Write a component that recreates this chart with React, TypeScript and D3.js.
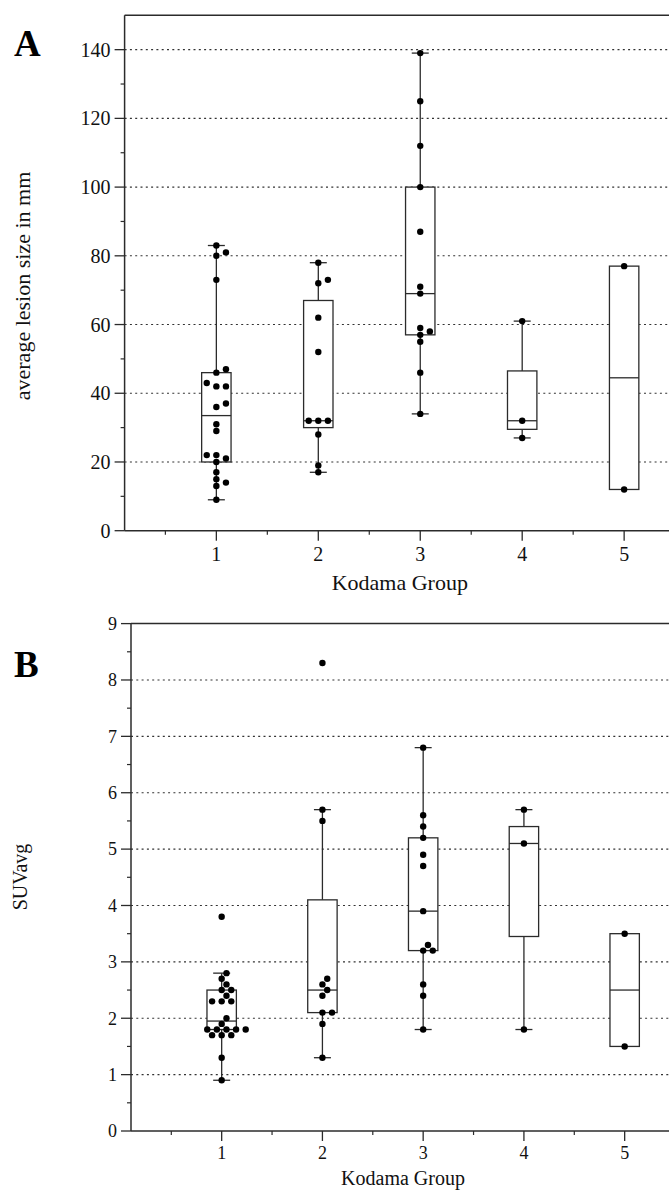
import React from "react";
import * as d3 from "d3";

// ---------- DATA ----------
const groups = [1, 2, 3, 4, 5];

// Panel A: average lesion size in mm (individual points per Kodama group)
const lesionGroup1 = [83, 81, 80, 73, 47, 46, 43, 42, 42, 37, 36, 31, 29, 22, 22, 21, 20, 17, 15, 14, 13, 9];
const lesionGroup2 = [78, 73, 72, 62, 52, 32, 32, 32, 28, 19, 17];
const lesionGroup3 = [139, 125, 112, 100, 87, 71, 69, 59, 58, 57, 55, 46, 34];
const lesionGroup4 = [61, 32, 27];
const lesionGroup5 = [77, 12];

const lesionWhiskerLow = [9, 17, 34, 27, 12];
const lesionQ1 = [20, 30, 57, 29.5, 12];
const lesionMedian = [33.5, 32, 69, 32, 44.5];
const lesionQ3 = [46, 67, 100, 46.5, 77];
const lesionWhiskerHigh = [83, 78, 139, 61, 77];

const lesionMajorTicks = [0, 20, 40, 60, 80, 100, 120, 140];
const lesionMinorTicks = [10, 30, 50, 70, 90, 110, 130];
const lesionGrid = [20, 40, 60, 80, 100, 120, 140];

// Panel B: SUVavg
const suvGroup1 = [3.8, 2.8, 2.7, 2.6, 2.5, 2.5, 2.4, 2.3, 2.3, 2.3, 2.0, 1.9, 1.8, 1.8, 1.8, 1.8, 1.8, 1.7, 1.7, 1.7, 1.3, 0.9];
const suvGroup2 = [8.3, 5.7, 5.5, 2.7, 2.6, 2.5, 2.4, 2.1, 2.1, 1.9, 1.3];
const suvGroup3 = [6.8, 5.6, 5.4, 5.2, 4.9, 4.7, 3.9, 3.3, 3.2, 3.2, 2.6, 2.4, 1.8];
const suvGroup4 = [5.7, 5.1, 1.8];
const suvGroup5 = [3.5, 1.5];

const suvWhiskerLow = [0.9, 1.3, 1.8, 1.8, 1.5];
const suvQ1 = [1.8, 2.1, 3.2, 3.45, 1.5];
const suvMedian = [1.95, 2.5, 3.9, 5.1, 2.5];
const suvQ3 = [2.5, 4.1, 5.2, 5.4, 3.5];
const suvWhiskerHigh = [2.8, 5.7, 6.8, 5.7, 3.5];

const suvMajorTicks = [0, 1, 2, 3, 4, 5, 6, 7, 8, 9];
const suvMinorTicks = [0.5, 1.5, 2.5, 3.5, 4.5, 5.5, 6.5, 7.5, 8.5];
const suvGrid = [1, 2, 3, 4, 5, 6, 7, 8];

const xMinorTicks = [0.5, 1.5, 2.5, 3.5, 4.5];

const xTitle = "Kodama Group";
const lesionTitle = "average lesion size in mm";
const suvTitle = "SUVavg";

// ---------- LAYOUT ----------
const FONT = "'Liberation Serif', 'Times New Roman', serif";
const INK = "#2b2b2b";

type PanelProps = {
  label: string;
  points: number[][];
  wLow: number[];
  q1: number[];
  med: number[];
  q3: number[];
  wHigh: number[];
  yDomain: [number, number];
  yRange: [number, number];
  xRange: [number, number];
  majors: number[];
  minors: number[];
  grid: number[];
  tickFont: number;
  titleFont: number;
  xLabelBaseline: number;
  xTitleBaseline: number;
  yTitle: string;
  yTitleX: number;
  yTitleCenter: number;
  labelBaseline: number;
};

function swarm(values: number[], yPix: (v: number) => number, step: number, dist: number) {
  const sorted = [...values].sort((a, b) => a - b);
  const placed: { v: number; py: number; dx: number }[] = [];
  for (const v of sorted) {
    const py = yPix(v);
    let chosen = 0;
    for (let k = 0; k < 40; k++) {
      const m = k === 0 ? 0 : (k % 2 === 1 ? (k + 1) / 2 : -k / 2);
      const dx = m * step;
      const ok = placed.every((p) => (p.dx - dx) ** 2 + (p.py - py) ** 2 >= dist * dist);
      if (ok) {
        chosen = dx;
        break;
      }
    }
    placed.push({ v, py, dx: chosen });
  }
  return placed;
}

function Panel(p: PanelProps) {
  const x = d3.scaleLinear().domain([0.1, 5.44]).range(p.xRange);
  const y = d3.scaleLinear().domain(p.yDomain).range(p.yRange);
  const left = p.xRange[0];
  const right = p.xRange[1];
  const bottom = p.yRange[0];
  const top = p.yRange[1];
  const boxHalf = 14.7;
  const capHalf = 8.5;

  return (
    <g>
      {/* grid */}
      {p.grid.map((g) => (
        <line key={"g" + g} x1={left} x2={right} y1={y(g)} y2={y(g)} stroke="#333" strokeWidth={1.1} strokeDasharray="2,3.3" />
      ))}
      {/* boxes */}
      {groups.map((grp, i) => {
        const cx = x(grp);
        const yq1 = y(p.q1[i]);
        const yq3 = y(p.q3[i]);
        const ylo = y(p.wLow[i]);
        const yhi = y(p.wHigh[i]);
        return (
          <g key={"b" + grp}>
            {p.wHigh[i] > p.q3[i] && (
              <>
                <line x1={cx} x2={cx} y1={yq3} y2={yhi} stroke={INK} strokeWidth={1.3} />
                <line x1={cx - capHalf} x2={cx + capHalf} y1={yhi} y2={yhi} stroke={INK} strokeWidth={1.3} />
              </>
            )}
            {p.wLow[i] < p.q1[i] && (
              <>
                <line x1={cx} x2={cx} y1={yq1} y2={ylo} stroke={INK} strokeWidth={1.3} />
                <line x1={cx - capHalf} x2={cx + capHalf} y1={ylo} y2={ylo} stroke={INK} strokeWidth={1.3} />
              </>
            )}
            <rect x={cx - boxHalf} y={yq3} width={boxHalf * 2} height={yq1 - yq3} fill="#fff" stroke={INK} strokeWidth={1.3} />
            <line x1={cx - boxHalf} x2={cx + boxHalf} y1={y(p.med[i])} y2={y(p.med[i])} stroke={INK} strokeWidth={1.3} />
          </g>
        );
      })}
      {/* points */}
      {groups.map((grp, i) => {
        const cx = x(grp);
        const pl = swarm(p.points[i], (v) => y(v), 4.8, 6);
        return (
          <g key={"p" + grp}>
            {pl.map((d, j) => (
              <circle key={j} cx={cx + d.dx} cy={d.py} r={3.2} fill="#000" />
            ))}
          </g>
        );
      })}
      {/* frame & axes */}
      <line x1={left} x2={right} y1={top} y2={top} stroke={INK} strokeWidth={1.5} />
      <line x1={left} x2={left} y1={top} y2={bottom} stroke={INK} strokeWidth={1.5} />
      <line x1={left} x2={right} y1={bottom} y2={bottom} stroke={INK} strokeWidth={1.5} />
      {p.majors.map((t) => (
        <g key={"ym" + t}>
          <line x1={left - 10} x2={left} y1={y(t)} y2={y(t)} stroke={INK} strokeWidth={1.3} />
          <text x={left - 14} y={y(t)} dy="0.35em" textAnchor="end" fontFamily={FONT} fontSize={p.tickFont} fill="#111">
            {t}
          </text>
        </g>
      ))}
      {p.minors.map((t) => (
        <line key={"yn" + t} x1={left - 4} x2={left} y1={y(t)} y2={y(t)} stroke={INK} strokeWidth={1.2} />
      ))}
      {groups.map((g) => (
        <g key={"xm" + g}>
          <line x1={x(g)} x2={x(g)} y1={bottom} y2={bottom + 10} stroke={INK} strokeWidth={1.3} />
          <text x={x(g)} y={p.xLabelBaseline} textAnchor="middle" fontFamily={FONT} fontSize={p.tickFont} fill="#111">
            {g}
          </text>
        </g>
      ))}
      {xMinorTicks.map((t) => (
        <line key={"xn" + t} x1={x(t)} x2={x(t)} y1={bottom} y2={bottom + 4} stroke={INK} strokeWidth={1.2} />
      ))}
      <text x={(left + right) / 2 + 3} y={p.xTitleBaseline} textAnchor="middle" fontFamily={FONT} fontSize={p.titleFont} fill="#111">
        {xTitle}
      </text>
      <text
        transform={`translate(${p.yTitleX},${p.yTitleCenter}) rotate(-90)`}
        textAnchor="middle"
        fontFamily={FONT}
        fontSize={p.titleFont}
        fill="#111"
      >
        {p.yTitle}
      </text>
      <text x={14} y={p.labelBaseline} fontFamily={FONT} fontWeight="bold" fontSize={37} fill="#000">
        {p.label}
      </text>
    </g>
  );
}

export default function App() {
  return (
    <svg width={669} height={1192} style={{ position: "absolute", left: 0, top: 0, background: "#fff" }}>
      <rect x={0} y={0} width={669} height={1192} fill="#fff" />
      <Panel
        label="A"
        points={[lesionGroup1, lesionGroup2, lesionGroup3, lesionGroup4, lesionGroup5]}
        wLow={lesionWhiskerLow}
        q1={lesionQ1}
        med={lesionMedian}
        q3={lesionQ3}
        wHigh={lesionWhiskerHigh}
        yDomain={[0, 150]}
        yRange={[530.7, 15.3]}
        xRange={[124.6, 669]}
        majors={lesionMajorTicks}
        minors={lesionMinorTicks}
        grid={lesionGrid}
        tickFont={20}
        titleFont={22}
        xLabelBaseline={561}
        xTitleBaseline={590}
        yTitle={lesionTitle}
        yTitleX={30}
        yTitleCenter={286}
        labelBaseline={56}
      />
      <Panel
        label="B"
        points={[suvGroup1, suvGroup2, suvGroup3, suvGroup4, suvGroup5]}
        wLow={suvWhiskerLow}
        q1={suvQ1}
        med={suvMedian}
        q3={suvQ3}
        wHigh={suvWhiskerHigh}
        yDomain={[0, 9]}
        yRange={[1131, 623.6]}
        xRange={[131, 669]}
        majors={suvMajorTicks}
        minors={suvMinorTicks}
        grid={suvGrid}
        tickFont={18}
        titleFont={20}
        xLabelBaseline={1159}
        xTitleBaseline={1185}
        yTitle={suvTitle}
        yTitleX={27}
        yTitleCenter={877}
        labelBaseline={677}
      />
    </svg>
  );
}
